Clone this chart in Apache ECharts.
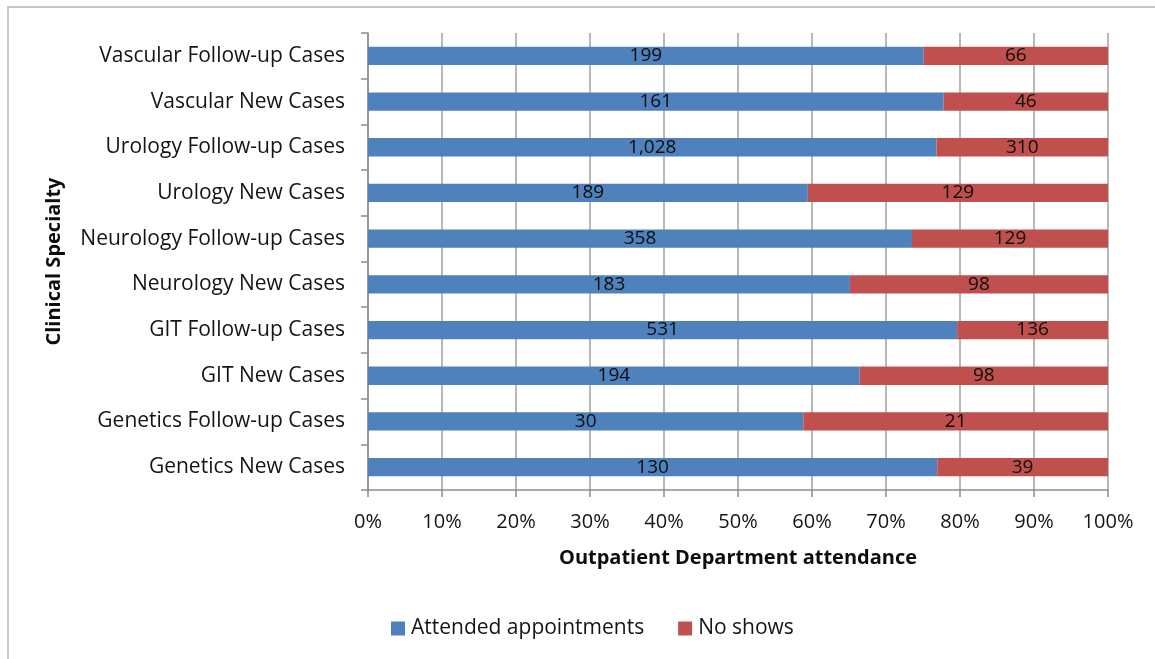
<!DOCTYPE html>
<html>
<head>
<meta charset="utf-8">
<script src="https://cdn.jsdelivr.net/npm/echarts@6/dist/echarts.min.js"></script>
<style>
  html, body { margin: 0; padding: 0; background: #fff; }
  #frame { position: absolute; left: 7px; top: 6px; right: 0; bottom: 0; border-top: 2px solid #c8c8c8; border-left: 2px solid #c8c8c8; }
  #chart { position: absolute; left: 0; top: 0; width: 1155px; height: 659px; }
</style>
</head>
<body>
<div id="frame"></div>
<div id="chart"></div>
<script>
const categories = [
  'Genetics New Cases', 'Genetics Follow-up Cases', 'GIT New Cases', 'GIT Follow-up Cases',
  'Neurology New Cases', 'Neurology Follow-up Cases', 'Urology New Cases', 'Urology Follow-up Cases',
  'Vascular New Cases', 'Vascular Follow-up Cases'
];
const attended = [130, 30, 194, 531, 183, 358, 189, 1028, 161, 199];
const noShows = [39, 21, 98, 136, 98, 129, 129, 310, 46, 66];
const xTicks = [0, 10, 20, 30, 40, 50, 60, 70, 80, 90, 100];

const totals = attended.map((v, i) => v + noShows[i]);
const attPct = attended.map((v, i) => v / totals[i] * 100);
const noPct = noShows.map((v, i) => v / totals[i] * 100);

const FONT = 'Open Sans';
const chart = echarts.init(document.getElementById('chart'), null, { renderer: 'canvas' });
const labelStyle = {
  show: true, position: 'inside', color: '#0d0d0d', fontFamily: FONT, fontSize: 19
};
chart.setOption({
  animation: false,
  backgroundColor: 'transparent',
  textStyle: { fontFamily: FONT },
  grid: { left: 368, right: 47, top: 33, bottom: 169, containLabel: false },
  legend: {
    data: ['Attended appointments', 'No shows'],
    top: 613, left: 386,
    itemWidth: 14, itemHeight: 14, itemGap: 34,
    icon: 'rect',
    textStyle: { fontFamily: FONT, fontSize: 21, color: '#141414', padding: [0, 0, 0, 1] }
  },
  xAxis: {
    type: 'value', min: 0, max: 100, interval: 10,
    name: 'Outpatient Department attendance',
    nameLocation: 'middle', nameGap: 58,
    nameTextStyle: { fontFamily: FONT, fontSize: 20, fontWeight: 'bold', color: '#0d0d0d' },
    axisLine: { show: true, lineStyle: { color: '#8c8c8c', width: 1.5 } },
    axisTick: { show: true, length: 7, lineStyle: { color: '#8c8c8c', width: 1.5 } },
    splitLine: { show: true, lineStyle: { color: '#a0a0a0', width: 1.5 } },
    axisLabel: {
      margin: 22, fontFamily: FONT, fontSize: 20, color: '#141414',
      formatter: v => (xTicks.indexOf(v) >= 0 ? v + '%' : '')
    }
  },
  yAxis: {
    type: 'category', data: categories,
    name: 'Clinical Specialty', nameLocation: 'middle', nameRotate: 90, nameGap: 304,
    nameTextStyle: { fontFamily: FONT, fontSize: 20, fontWeight: 'bold', color: '#0d0d0d' },
    axisLine: { show: true, lineStyle: { color: '#8c8c8c', width: 1.5 } },
    axisTick: { show: true, length: 7, lineStyle: { color: '#8c8c8c', width: 1.5 } },
    axisLabel: { margin: 23, fontFamily: FONT, fontSize: 21, color: '#141414' }
  },
  series: [
    {
      name: 'Attended appointments', type: 'bar', stack: 'total', barWidth: '40%',
      data: attPct, itemStyle: { color: '#4F81BD' },
      label: Object.assign({}, labelStyle, { formatter: p => attended[p.dataIndex].toLocaleString('en-US') })
    },
    {
      name: 'No shows', type: 'bar', stack: 'total', barWidth: '40%',
      data: noPct, itemStyle: { color: '#C0504D' },
      label: Object.assign({}, labelStyle, { formatter: p => noShows[p.dataIndex].toLocaleString('en-US') })
    }
  ]
});
</script>
</body>
</html>
